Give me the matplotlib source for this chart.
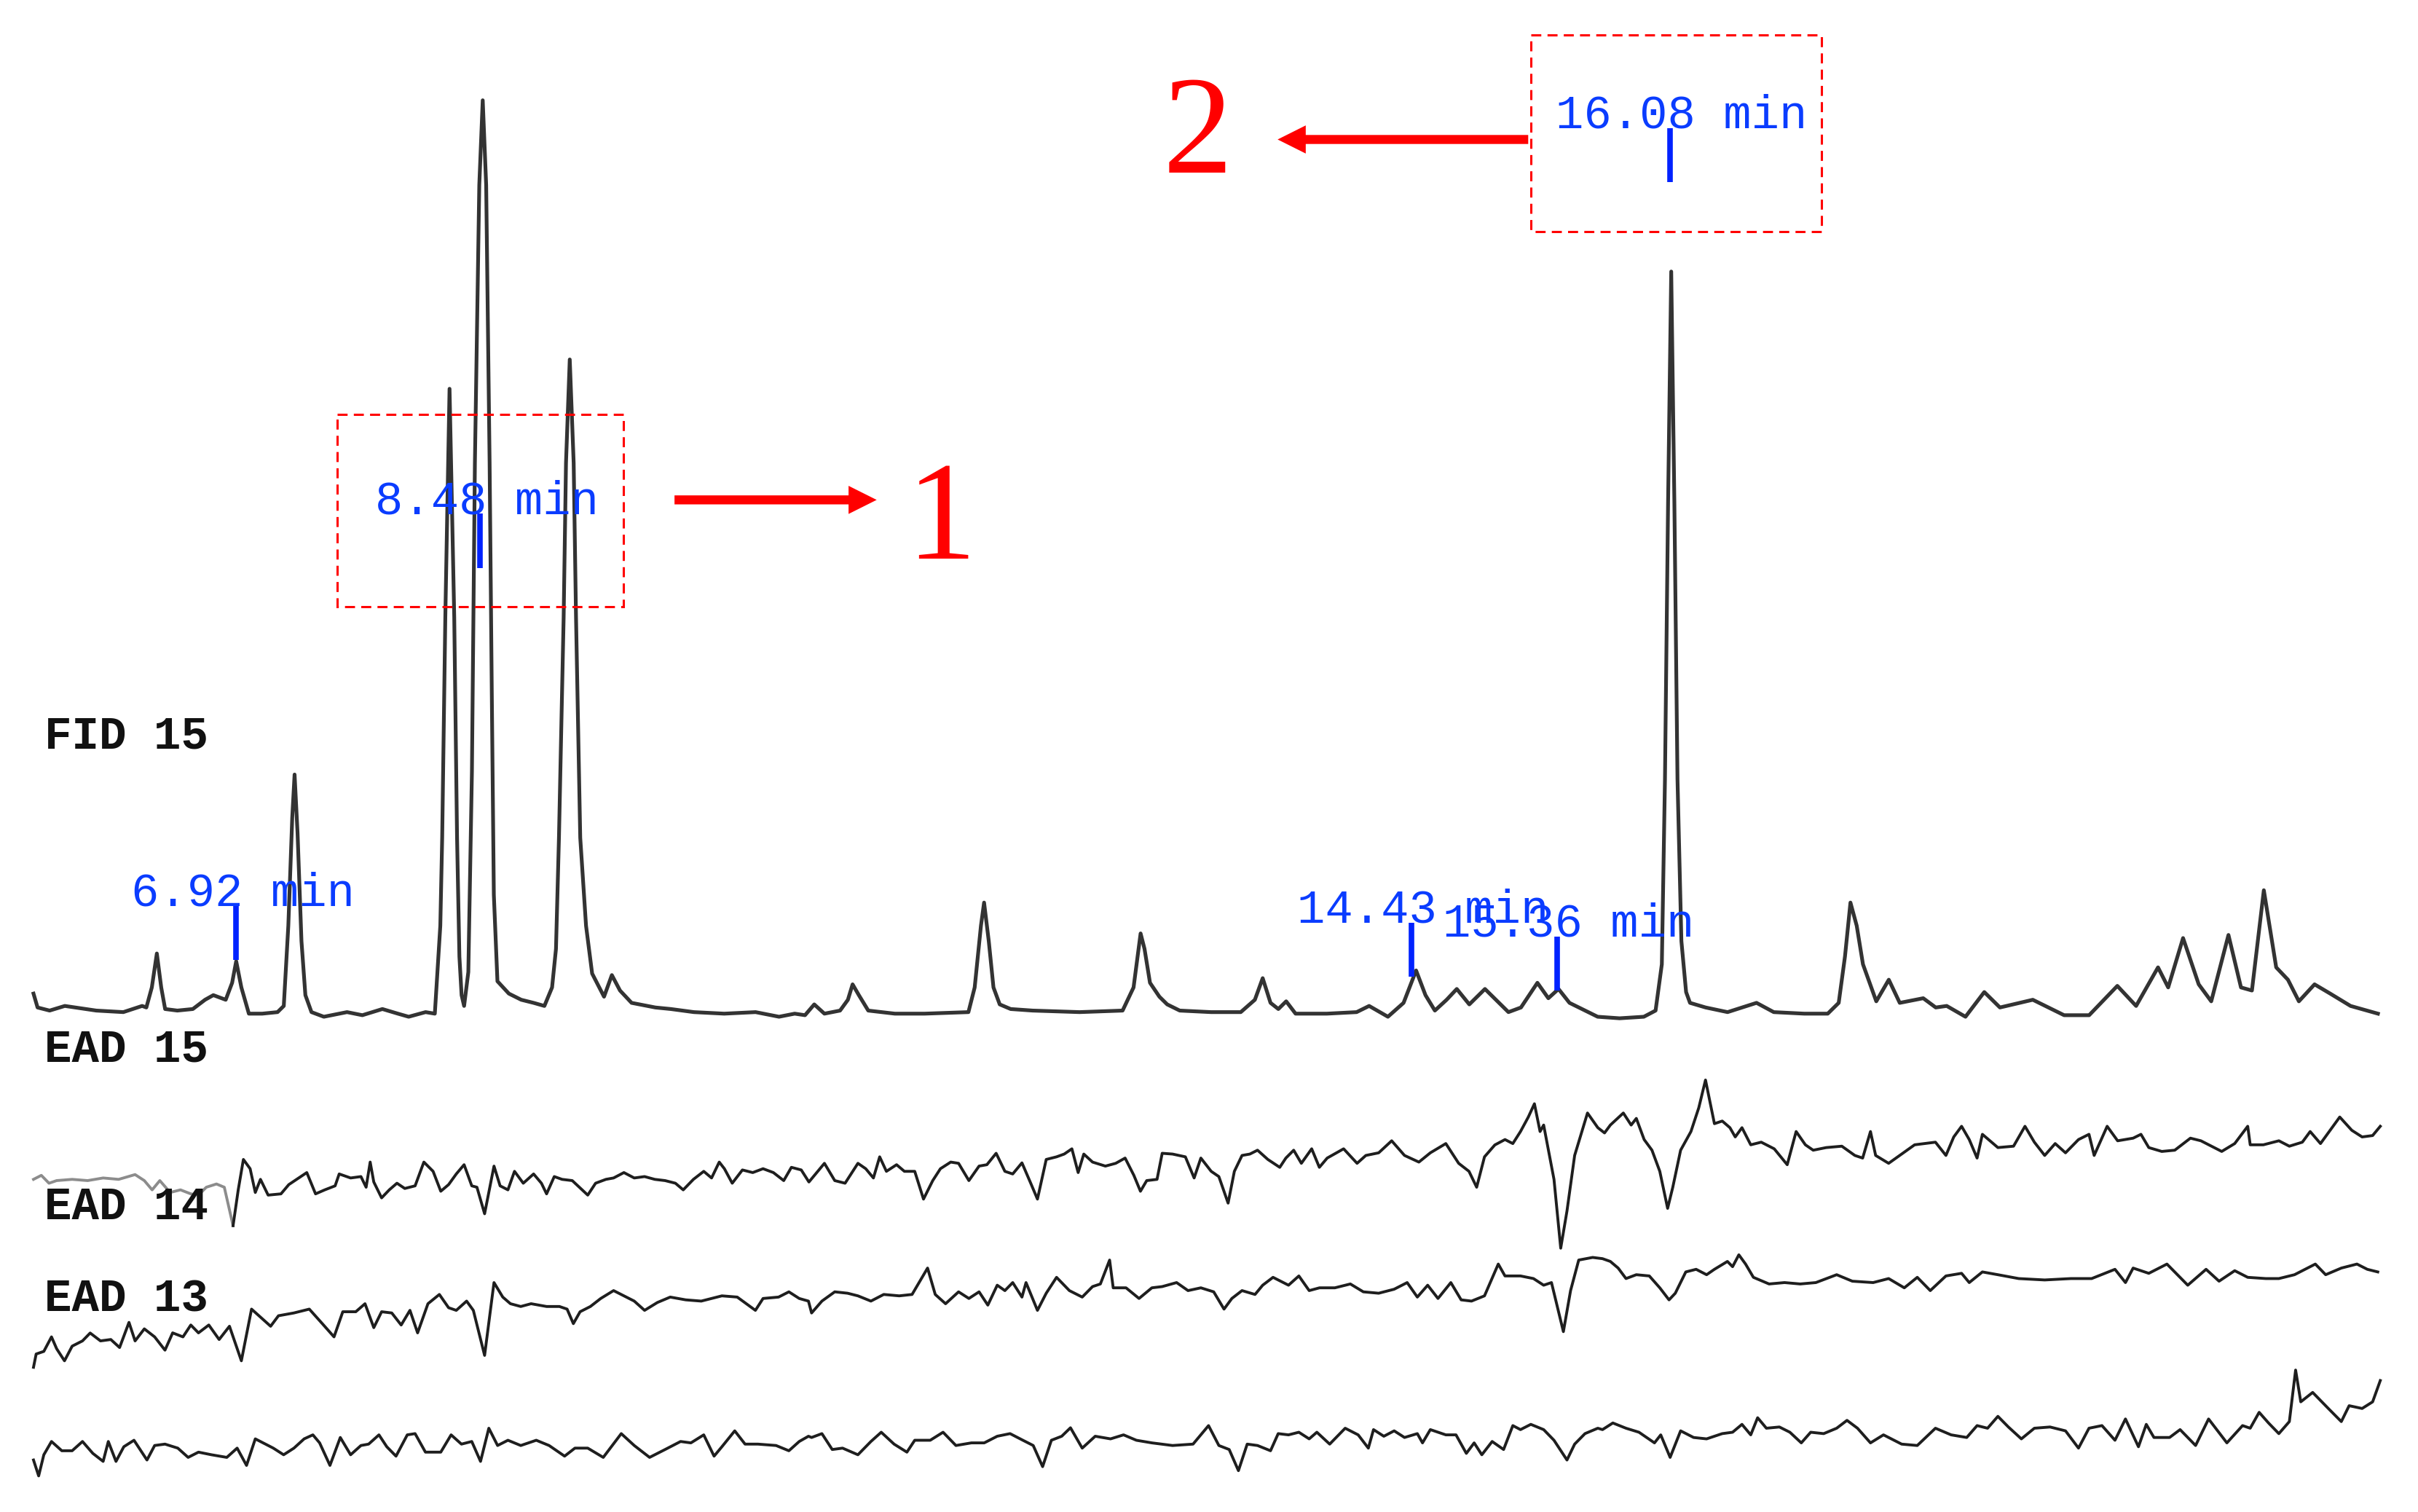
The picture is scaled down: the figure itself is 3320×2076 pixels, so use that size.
import matplotlib
matplotlib.use("Agg")
import matplotlib.pyplot as plt
from matplotlib.patches import FancyArrowPatch, ArrowStyle, Rectangle
import numpy as np

# ---------------- data (retention time in min, response in arbitrary units) ----------------
FID_POINTS = [
    (5.627, 11), (5.653, 2), (5.73, 0), (5.827, 3), (6.028, 0), (6.201, -1), (6.321, 3), (6.348, 2),
    (6.383, 15), (6.415, 37), (6.443, 15), (6.468, 1), (6.546, 0), (6.645, 1), (6.723, 7), (6.776, 10),
    (6.855, 7), (6.896, 18), (6.922, 32), (6.955, 15), (7.003, -2), (7.088, -2), (7.186, -1), (7.226, 3),
    (7.255, 55), (7.280, 125), (7.295, 153), (7.314, 115), (7.339, 45), (7.364, 10), (7.403, -1),
    (7.482, -4), (7.630, -1), (7.728, -3), (7.856, 1), (7.955, -2), (8.024, -4), (8.132, -1), (8.191, -2),
    (8.226, 55), (8.238, 112), (8.258, 255), (8.285, 403), (8.315, 255), (8.333, 112), (8.348, 35),
    (8.362, 10), (8.378, 3), (8.405, 25), (8.428, 155), (8.447, 355), (8.475, 535), (8.497, 590),
    (8.519, 535), (8.541, 355), (8.555, 205), (8.568, 75), (8.591, 19), (8.664, 11), (8.743, 7),
    (8.822, 5), (8.891, 3), (8.940, 15), (8.965, 40), (8.984, 112), (9.014, 255), (9.029, 355),
    (9.053, 422), (9.078, 355), (9.093, 255), (9.120, 112), (9.157, 55), (9.196, 24), (9.272, 9),
    (9.322, 23), (9.374, 13), (9.448, 5), (9.600, 2), (9.699, 1), (9.846, -1), (10.04, -2), (10.24, -1),
    (10.39, -4), (10.49, -2), (10.556, -3), (10.615, 4), (10.68, -2), (10.78, 0), (10.83, 7), (10.86, 17),
    (10.90, 10), (10.96, 0), (11.13, -2), (11.32, -2), (11.60, -1), (11.64, 15), (11.68, 55), (11.70, 70),
    (11.73, 45), (11.76, 15), (11.80, 4), (11.87, 1), (12.01, 0), (12.31, -1), (12.585, 0), (12.655, 15),
    (12.70, 50), (12.725, 40), (12.76, 18), (12.82, 9), (12.87, 4), (12.95, 0), (13.15, -1), (13.34, -1),
    (13.43, 7), (13.48, 21), (13.53, 5), (13.58, 1), (13.63, 6), (13.69, -2), (13.89, -2), (14.08, -1),
    (14.16, 3), (14.28, -4), (14.38, 5), (14.46, 26), (14.52, 10), (14.58, 0), (14.655, 7), (14.72, 14),
    (14.80, 4), (14.90, 14), (14.97, 7), (15.05, -1), (15.13, 2), (15.235, 18), (15.305, 8), (15.37, 14),
    (15.44, 5), (15.52, 1), (15.62, -4), (15.76, -5), (15.915, -4), (15.99, 0), (16.03, 30), (16.05, 150),
    (16.07, 330), (16.09, 479), (16.11, 330), (16.13, 150), (16.155, 45), (16.185, 12), (16.21, 5),
    (16.31, 2), (16.45, -1), (16.635, 5), (16.745, -1), (16.94, -2), (17.09, -2), (17.16, 5), (17.20, 35),
    (17.235, 70), (17.275, 55), (17.315, 30), (17.40, 6), (17.48, 20), (17.55, 5), (17.70, 8), (17.78, 2),
    (17.85, 3), (17.97, -4), (18.09, 12), (18.19, 2), (18.40, 7), (18.60, -3), (18.76, -3), (18.94, 16),
    (19.06, 3), (19.20, 28), (19.265, 15), (19.36, 47), (19.46, 17), (19.54, 6), (19.65, 49), (19.73, 15),
    (19.80, 13), (19.876, 78), (19.955, 28), (20.03, 20), (20.10, 6), (20.20, 17), (20.30, 11), (20.43, 3),
    (20.605, -2),
]

EAD15_POINTS = [
    (5.627, -4.4), (5.677, -1.8), (5.726, -6.9), (5.775, -5.2), (5.874, -4.4), (5.973, -5.2), (6.072, -3.5),
    (6.171, -4.4), (6.276, -1.3), (6.335, -5.2), (6.385, -11.2), (6.434, -5.2), (6.500, -12.9), (6.566, -11.2),
    (6.632, -13.8), (6.681, -14.6), (6.731, -9.5), (6.796, -7.4), (6.846, -9.5), (6.902, -34.4), (6.935, -11.2),
    (6.968, 8.5), (7.011, 2.5), (7.044, -12.9), (7.077, -4.4), (7.126, -14.6), (7.208, -13.8), (7.258, -7.8),
    (7.373, 0.0), (7.429, -13.8), (7.488, -11.2), (7.554, -8.6), (7.580, -0.9), (7.653, -3.5), (7.719, -2.6),
    (7.752, -9.5), (7.778, 6.8), (7.801, -6.1), (7.851, -16.4), (7.900, -11.2), (7.949, -6.9), (7.999, -10.3),
    (8.065, -8.6), (8.121, 6.8), (8.180, 0.8), (8.229, -12.1), (8.279, -7.8), (8.328, -0.9), (8.378, 5.1),
    (8.427, -8.6), (8.460, -9.5), (8.509, -26.7), (8.569, 4.2), (8.608, -8.6), (8.658, -11.2), (8.700, 0.8),
    (8.756, -6.9), (8.822, -0.9), (8.872, -6.9), (8.905, -13.8), (8.954, -2.6), (9.004, -4.4), (9.069, -5.2),
    (9.168, -14.6), (9.218, -6.9), (9.284, -4.4), (9.333, -3.5), (9.399, 0.0), (9.465, -3.5), (9.531, -2.6),
    (9.596, -4.4), (9.662, -5.2), (9.728, -6.9), (9.778, -11.2), (9.843, -4.4), (9.909, 0.8), (9.959, -3.5),
    (10.008, 6.8), (10.041, 2.5), (10.091, -6.9), (10.156, 1.7), (10.222, 0.0), (10.288, 2.5), (10.354, 0.0),
    (10.420, -5.2), (10.469, 3.4), (10.532, 1.7), (10.581, -6.1), (10.680, 6.0), (10.746, -5.2), (10.812, -6.9),
    (10.894, 6.0), (10.944, 2.5), (10.993, -3.5), (11.033, 10.2), (11.076, 0.8), (11.141, 5.1), (11.191, 0.8),
    (11.257, 0.8), (11.313, -17.2), (11.372, -5.2), (11.421, 2.5), (11.487, 6.8), (11.537, 6.0), (11.603, -5.2),
    (11.668, 4.2), (11.718, 5.1), (11.777, 12.5), (11.833, 0.8), (11.883, -0.9), (11.942, 6.3), (11.998, -6.9),
    (12.041, -17.2), (12.097, 8.5), (12.163, 10.2), (12.212, 12.0), (12.261, 15.4), (12.301, 0.0), (12.337, 12.0),
    (12.393, 6.8), (12.475, 4.2), (12.541, 6.0), (12.601, 9.4), (12.657, -1.8), (12.699, -12.1), (12.739, -5.2),
    (12.805, -4.4), (12.838, 12.5), (12.904, 12.0), (12.986, 10.2), (13.042, -3.5), (13.085, 9.4), (13.151, 0.8),
    (13.200, -2.6), (13.259, -19.8), (13.299, 0.8), (13.348, 11.1), (13.398, 12.0), (13.447, 14.5), (13.513, 8.5),
    (13.589, 3.4), (13.628, 9.4), (13.678, 14.5), (13.727, 6.0), (13.793, 15.4), (13.842, 3.4), (13.892, 9.4),
    (13.997, 15.4), (14.083, 6.0), (14.139, 11.1), (14.221, 12.8), (14.304, 20.6), (14.386, 11.1), (14.478, 6.8),
    (14.551, 12.8), (14.650, 18.8), (14.732, 6.0), (14.798, 0.8), (14.847, -9.5), (14.897, 10.2), (14.963, 17.9),
    (15.028, 21.4), (15.078, 18.8), (15.127, 26.6), (15.177, 36.0), (15.216, 44.6), (15.252, 26.6), (15.275, 30.8),
    (15.341, -4.4), (15.384, -49.0), (15.424, -24.9), (15.473, 11.1), (15.555, 38.6), (15.621, 29.1), (15.664, 25.7),
    (15.701, 30.8), (15.784, 38.6), (15.834, 30.8), (15.867, 35.1), (15.917, 21.4), (15.967, 14.5), (16.017, 0.8),
    (16.067, -23.2), (16.100, -9.5), (16.150, 14.5), (16.216, 26.6), (16.266, 42.0), (16.309, 60.0), (16.349, 40.3),
    (16.366, 31.7), (16.416, 33.4), (16.465, 29.1), (16.499, 23.1), (16.542, 29.1), (16.598, 18.0), (16.665, 19.7),
    (16.748, 15.4), (16.831, 5.1), (16.888, 26.6), (16.947, 18.0), (16.997, 14.5), (17.080, 16.2), (17.180, 17.1),
    (17.263, 11.1), (17.313, 9.4), (17.363, 26.6), (17.396, 11.1), (17.479, 6.0), (17.562, 12.0), (17.645, 18.0),
    (17.778, 19.7), (17.845, 11.1), (17.895, 23.1), (17.945, 30.0), (17.994, 21.4), (18.044, 9.4), (18.078, 24.8),
    (18.177, 16.2), (18.277, 17.1), (18.350, 30.0), (18.410, 19.7), (18.476, 11.1), (18.543, 18.8), (18.609, 12.8),
    (18.692, 21.4), (18.759, 24.8), (18.792, 11.1), (18.875, 30.0), (18.942, 20.6), (19.041, 22.3), (19.091, 24.8),
    (19.141, 16.2), (19.224, 13.7), (19.307, 14.5), (19.407, 22.3), (19.474, 20.6), (19.607, 13.7), (19.690, 18.8),
    (19.773, 30.0), (19.789, 18.0), (19.873, 18.0), (19.972, 20.6), (20.039, 17.1), (20.122, 19.7), (20.172, 26.6),
    (20.238, 18.8), (20.361, 36.0), (20.438, 27.4), (20.504, 23.1), (20.571, 24.0), (20.620, 30.0),
]

EAD14_POINTS = [
    (5.627, -36.2), (5.644, -27.6), (5.693, -25.9), (5.742, -16.5), (5.775, -24.2), (5.825, -32.0), (5.874, -22.5),
    (5.940, -19.1), (5.989, -14.0), (6.055, -19.1), (6.121, -18.2), (6.177, -23.4), (6.237, -7.1), (6.276, -19.1),
    (6.335, -11.3), (6.401, -16.5), (6.467, -25.1), (6.516, -13.9), (6.582, -16.5), (6.632, -8.8), (6.681, -13.9),
    (6.747, -8.8), (6.813, -18.2), (6.879, -9.6), (6.955, -32.0), (7.020, 1.5), (7.076, -3.6), (7.142, -9.6),
    (7.192, -2.8), (7.290, -1.0), (7.389, 1.5), (7.472, -7.9), (7.547, -16.5), (7.603, -0.2), (7.686, -0.2),
    (7.745, 5.0), (7.801, -10.5), (7.851, -0.2), (7.916, -1.0), (7.976, -8.8), (8.032, 0.7), (8.081, -13.9),
    (8.147, 5.0), (8.220, 11.0), (8.279, 2.4), (8.328, 0.7), (8.394, 6.7), (8.437, 0.7), (8.509, -28.5),
    (8.569, 18.7), (8.625, 9.3), (8.674, 5.0), (8.740, 3.2), (8.806, 5.0), (8.905, 3.2), (8.987, 3.2),
    (9.036, 1.5), (9.076, -7.9), (9.119, -0.2), (9.185, 3.2), (9.251, 8.4), (9.333, 13.5), (9.399, 10.1),
    (9.465, 6.7), (9.531, 0.7), (9.613, 5.8), (9.695, 9.3), (9.794, 7.5), (9.893, 6.7), (10.025, 10.1),
    (10.123, 9.3), (10.239, 0.7), (10.288, 8.4), (10.387, 9.3), (10.453, 12.7), (10.519, 8.4), (10.578, 6.7),
    (10.598, -1.0), (10.664, 6.7), (10.746, 12.7), (10.828, 11.8), (10.894, 10.1), (10.977, 6.7), (11.059, 11.0),
    (11.158, 10.1), (11.240, 11.0), (11.339, 28.1), (11.388, 11.0), (11.454, 5.0), (11.537, 12.7), (11.603, 8.4),
    (11.668, 12.7), (11.724, 4.1), (11.784, 17.0), (11.833, 13.5), (11.883, 18.7), (11.942, 9.3), (11.968, 18.7),
    (12.041, 0.7), (12.097, 11.8), (12.163, 22.1), (12.245, 13.5), (12.327, 9.3), (12.393, 16.1), (12.443, 17.8),
    (12.502, 33.3), (12.525, 15.3), (12.607, 15.3), (12.690, 8.4), (12.772, 15.3), (12.838, 16.1), (12.930, 18.7),
    (13.003, 13.5), (13.085, 15.3), (13.167, 12.7), (13.233, 1.5), (13.283, 8.4), (13.348, 13.5), (13.431, 11.0),
    (13.480, 17.0), (13.546, 22.1), (13.645, 17.0), (13.711, 23.0), (13.777, 13.5), (13.843, 15.3), (13.941, 15.3),
    (14.040, 17.8), (14.123, 12.7), (14.221, 11.8), (14.320, 14.4), (14.403, 18.7), (14.468, 9.3), (14.534, 17.0),
    (14.600, 8.4), (14.682, 18.7), (14.748, 7.5), (14.814, 6.7), (14.897, 10.1), (14.985, 30.7), (15.028, 23.0),
    (15.127, 23.0), (15.210, 21.3), (15.275, 17.0), (15.325, 18.7), (15.401, -13.1), (15.447, 13.5), (15.499, 33.3),
    (15.588, 35.0), (15.651, 34.2), (15.701, 32.4), (15.751, 28.1), (15.801, 21.3), (15.867, 23.8), (15.950, 23.0),
    (16.017, 15.3), (16.076, 7.5), (16.116, 11.8), (16.183, 25.6), (16.249, 27.3), (16.316, 23.8), (16.366, 27.3),
    (16.449, 32.4), (16.482, 29.0), (16.522, 36.7), (16.565, 30.7), (16.615, 22.1), (16.715, 17.8), (16.814, 18.7),
    (16.914, 17.8), (17.014, 18.7), (17.147, 23.8), (17.247, 19.6), (17.380, 18.7), (17.479, 21.3), (17.579, 15.3),
    (17.662, 22.1), (17.745, 13.5), (17.845, 23.0), (17.945, 24.7), (17.994, 18.7), (18.078, 25.6), (18.177, 23.8),
    (18.310, 21.3), (18.476, 20.4), (18.643, 21.3), (18.776, 21.3), (18.925, 27.3), (18.992, 18.7), (19.041, 28.1),
    (19.141, 24.7), (19.257, 30.7), (19.390, 17.0), (19.507, 27.3), (19.590, 19.6), (19.690, 26.4), (19.773, 22.1),
    (19.889, 21.3), (19.972, 21.3), (20.072, 23.8), (20.205, 30.7), (20.271, 23.8), (20.371, 28.1), (20.471, 30.7),
    (20.537, 27.3), (20.604, 25.6),
]

EAD13_POINTS = [
    (5.627, -11.3), (5.660, -21.6), (5.693, -7.9), (5.742, 0.7), (5.808, -5.3), (5.874, -5.3), (5.940, 0.7),
    (6.006, -7.0), (6.072, -12.2), (6.105, 0.7), (6.154, -12.2), (6.204, -2.7), (6.269, 1.5), (6.352, -11.3),
    (6.401, -1.9), (6.467, -1.0), (6.549, -3.6), (6.615, -9.6), (6.681, -6.2), (6.764, -7.9), (6.862, -9.6),
    (6.928, -3.6), (6.988, -14.8), (7.044, 2.4), (7.109, -1.0), (7.159, -3.6), (7.225, -7.9), (7.291, -3.6),
    (7.356, 2.4), (7.412, 5.0), (7.455, -0.2), (7.521, -14.8), (7.587, 3.3), (7.653, -7.9), (7.719, -1.9),
    (7.768, -1.0), (7.834, 5.0), (7.884, -2.7), (7.943, -8.8), (8.015, 5.0), (8.065, 5.8), (8.131, -6.2),
    (8.229, -6.2), (8.295, 5.0), (8.361, -1.0), (8.427, 0.7), (8.483, -12.2), (8.536, 9.3), (8.592, -1.9),
    (8.658, 1.5), (8.740, -1.9), (8.839, 1.5), (8.921, -1.9), (9.020, -8.8), (9.086, -3.6), (9.168, -3.6),
    (9.267, -9.6), (9.382, 5.8), (9.465, -1.9), (9.563, -9.6), (9.662, -4.5), (9.761, 0.7), (9.827, -0.2),
    (9.909, 5.0), (9.975, -8.8), (10.025, -2.7), (10.107, 7.6), (10.173, -1.0), (10.255, -1.0), (10.371, -1.9),
    (10.453, -5.3), (10.519, 0.7), (10.578, 4.1), (10.598, 3.3), (10.664, 5.8), (10.730, -4.5), (10.796, -3.6),
    (10.894, -7.9), (10.977, 0.7), (11.043, 6.7), (11.125, -1.0), (11.207, -6.2), (11.257, 1.5), (11.356, 1.5),
    (11.438, 6.7), (11.520, -1.9), (11.619, -0.2), (11.701, -0.2), (11.784, 4.1), (11.866, 5.8), (11.948, 1.5),
    (12.014, -1.9), (12.074, -15.6), (12.130, 1.5), (12.196, 4.1), (12.252, 9.6), (12.327, -3.6), (12.410, 4.1),
    (12.508, 2.4), (12.591, 5.0), (12.673, 1.5), (12.772, -0.2), (12.904, -1.9), (13.035, -1.0), (13.134, 11.0),
    (13.200, -1.9), (13.266, -4.5), (13.325, -18.2), (13.381, -1.0), (13.447, -1.9), (13.530, -5.3), (13.579, 5.8),
    (13.645, 5.0), (13.711, 6.7), (13.777, 2.4), (13.826, 6.7), (13.908, -1.0), (14.007, 9.3), (14.090, 5.0),
    (14.155, -3.6), (14.188, 8.4), (14.254, 4.1), (14.320, 7.6), (14.386, 3.3), (14.468, 5.8), (14.501, -0.2),
    (14.551, 8.4), (14.650, 5.0), (14.715, 5.0), (14.781, -7.0), (14.831, -0.2), (14.880, -7.9), (14.946, 0.7),
    (15.019, -4.5), (15.078, 11.0), (15.127, 8.4), (15.193, 11.8), (15.275, 8.4), (15.341, 1.5), (15.424, -11.3),
    (15.473, -1.0), (15.539, 5.8), (15.621, 9.3), (15.651, 8.4), (15.717, 12.7), (15.801, 9.3), (15.884, 6.7),
    (15.983, -0.2), (16.023, 5.0), (16.083, -9.6), (16.150, 7.6), (16.233, 3.3), (16.316, 2.4), (16.416, 5.8),
    (16.482, 6.7), (16.542, 11.8), (16.598, 5.0), (16.642, 16.1), (16.698, 9.3), (16.781, 10.1), (16.848, 6.7),
    (16.921, -0.2), (16.981, 6.7), (17.064, 5.8), (17.147, 9.3), (17.213, 14.4), (17.280, 9.3), (17.363, -0.2),
    (17.446, 5.0), (17.562, -1.0), (17.662, -1.9), (17.778, 9.3), (17.878, 5.0), (17.978, 3.3), (18.044, 11.0),
    (18.111, 9.3), (18.177, 17.0), (18.244, 10.1), (18.327, 2.4), (18.410, 9.3), (18.510, 10.1), (18.609, 7.6),
    (18.692, -3.6), (18.759, 9.3), (18.842, 11.0), (18.925, 1.5), (18.992, 15.3), (19.075, -2.7), (19.125, 11.8),
    (19.174, 3.3), (19.274, 3.3), (19.341, 8.4), (19.440, -1.9), (19.523, 15.3), (19.640, -0.2), (19.740, 11.0),
    (19.789, 9.3), (19.846, 19.6), (19.906, 12.7), (19.972, 5.8), (20.039, 13.6), (20.079, 47.0), (20.112, 26.4),
    (20.188, 32.5), (20.288, 22.1), (20.371, 13.6), (20.421, 23.9), (20.504, 22.1), (20.571, 26.4), (20.620, 40.2),
]

TRACE_LABELS = ["FID 15", "EAD 15", "EAD 14", "EAD 13"]
MARKER_TIMES = [6.92, 8.48, 14.43, 15.36, 16.08]
MARKER_LABELS = ["6.92 min", "8.48 min", "14.43 min", "15.36 min", "16.08 min"]
CALLOUT_NUMBERS = ["1", "2"]

# ---------------- layout ----------------
X0 = 5.413            # time at left edge of the canvas
MIN_PER_PX = 0.009852 # minutes per layout unit
YMAX = 980            # vertical layout units (top-down)


def px_to_min(px):
    return X0 + px * MIN_PER_PX


fig = plt.figure(figsize=(33.2, 20.76), dpi=100)
ax = fig.add_axes([0, 0, 1, 1])
ax.set_xlim(X0, px_to_min(1568))
ax.set_ylim(YMAX, 0)
ax.axis("off")

# traces
FID_BASE = 655
EAD_BASES = [760, 850, 935]

ft = np.array([p[0] for p in FID_POINTS])
fv = np.array([p[1] for p in FID_POINTS])
ax.plot(ft, FID_BASE - fv, color="#333333", lw=3.7, solid_joinstyle="round", zorder=3)

for i, (pts, base) in enumerate(zip([EAD15_POINTS, EAD14_POINTS, EAD13_POINTS], EAD_BASES)):
    t = np.array([p[0] for p in pts])
    v = np.array([p[1] for p in pts])
    y = base - v
    if i == 0:
        # the start of the first EAD trace is drawn lighter in the original
        k = np.searchsorted(t, 6.85)
        ax.plot(t[:k + 1], y[:k + 1], color="#8c8c8c", lw=2.8, solid_joinstyle="round", zorder=3)
        ax.plot(t[k:], y[k:], color="#1e1e1e", lw=2.8, solid_joinstyle="round", zorder=3)
    else:
        ax.plot(t, y, color="#1e1e1e", lw=2.8, solid_joinstyle="round", zorder=3)

# trace labels
label_baselines = [485, 688, 790, 850]
for lab, yb in zip(TRACE_LABELS, label_baselines):
    ax.text(px_to_min(29), yb, lab, fontfamily="Liberation Mono", fontweight="bold",
            fontsize=45, color="#111111", ha="left", va="baseline", zorder=5)

# retention-time markers
marker_tops = [587, 333, 598, 607, 83]
for t, lab, ytop in zip(MARKER_TIMES, MARKER_LABELS, marker_tops):
    ax.plot([t, t], [ytop, ytop + 35], color="#0022ff", lw=5.5, solid_capstyle="butt", zorder=4)
    off = 68 if len(lab) <= 8 else 74
    ax.text(t - off * MIN_PER_PX, ytop, lab, fontfamily="Liberation Mono", fontsize=46,
            color="#0a3cff", ha="left", va="baseline", zorder=5)

# dashed boxes
boxes = [(218.5, 268.4, 404.4, 393.3), (992.7, 22.8, 1181.0, 149.9)]
for x1, y1, x2, y2 in boxes:
    ax.add_patch(Rectangle((px_to_min(x1), y1), px_to_min(x2) - px_to_min(x1), y2 - y1,
                           fill=False, edgecolor="#ff0000", lw=2.2, linestyle=(0, (4.5, 2.8)), zorder=6))

# arrows
style = ArrowStyle.Simple(head_length=1.0, head_width=1.0, tail_width=0.32)
arrows = [((437.4, 324), (568.5, 324)), ((991.0, 90.4), (828.5, 90.4))]
for (xa, ya), (xb, yb) in arrows:
    ax.add_patch(FancyArrowPatch((px_to_min(xa), ya), (px_to_min(xb), yb), arrowstyle=style,
                                 mutation_scale=27.8, color="#ff0000", lw=0,
                                 shrinkA=0, shrinkB=0, zorder=6))

# callout numbers
num_pos = [(610, 362), (776.6, 112)]
for s, (xp, yp) in zip(CALLOUT_NUMBERS, num_pos):
    ax.text(px_to_min(xp), yp, s, fontfamily="Liberation Serif", fontsize=138, color="#ff0000",
            ha="center", va="baseline", zorder=6)

fig.savefig("out.png", dpi=100, facecolor="white")
